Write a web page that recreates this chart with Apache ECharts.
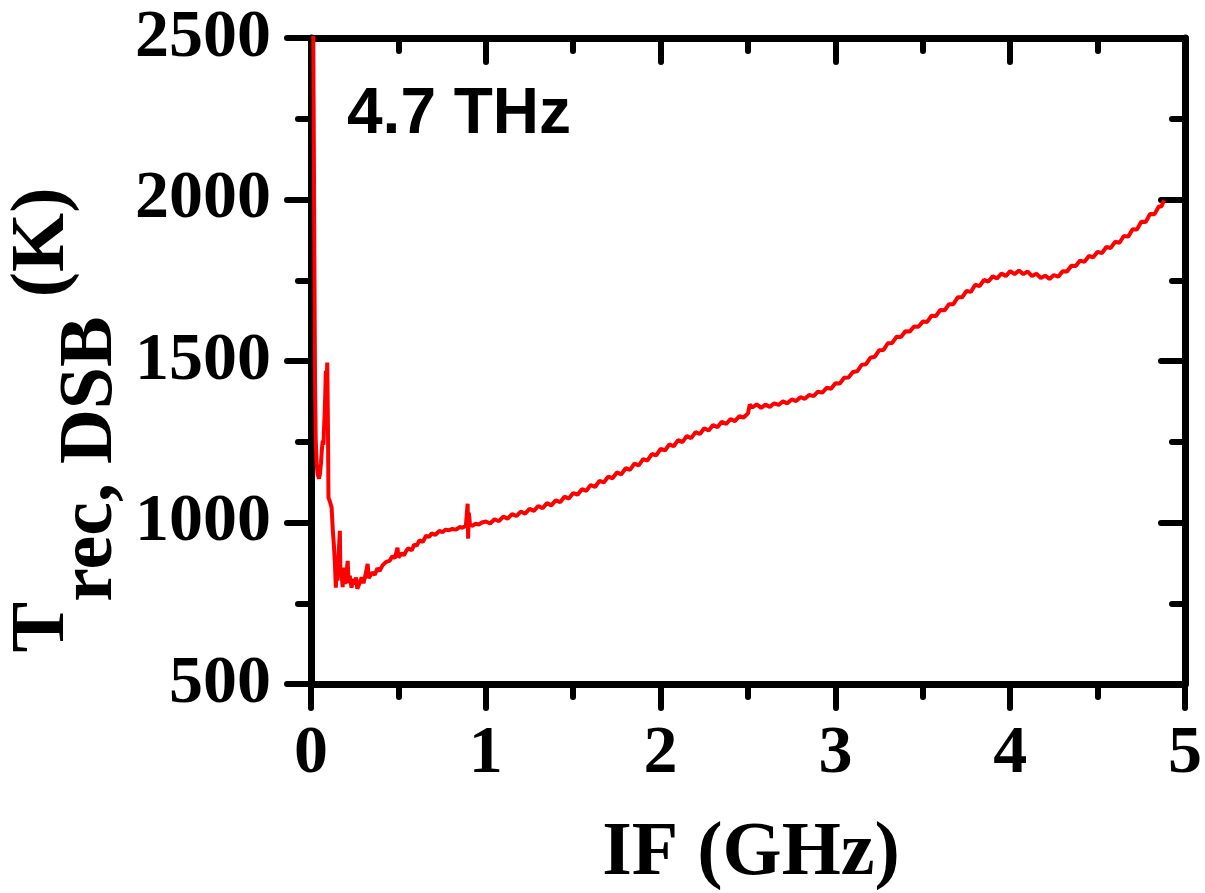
<!DOCTYPE html>
<html><head><meta charset="utf-8">
<script src="https://cdn.jsdelivr.net/npm/echarts@6/dist/echarts.min.js"></script>
<style>html,body{margin:0;padding:0;background:#fff}#c{width:1205px;height:893px}</style>
</head><body><div id="c"></div>
<script>
// IF frequency (GHz)
const ifGHz = [
0.012,0.016,0.020,0.023,0.027,0.032,0.038,0.046,0.051,0.057,0.062,0.067,0.071,0.074,0.079,0.085,0.089,0.093,0.097,0.100,
0.108,0.118,0.125,0.131,0.137,0.142,0.147,0.152,0.158,0.165,0.168,0.175,0.181,0.187,0.193,0.200,0.210,0.215,0.222,0.232,
0.240,0.250,0.258,0.265,0.279,0.290,0.300,0.312,0.324,0.330,0.336,0.350,0.365,0.380,0.392,0.410,0.430,0.449,0.465,0.480,
0.495,0.500,0.520,0.532,0.545,0.555,0.563,0.577,0.590,0.605,0.620,0.640,0.658,0.675,0.690,0.712,0.734,0.752,0.770,0.790,
0.808,0.830,0.850,0.868,0.886,0.896,0.899,0.903,0.910,0.925,0.940,0.960,0.978,
1.000,1.025,1.050,1.075,1.100,1.125,1.150,1.175,1.200,1.225,1.250,1.275,1.300,1.325,1.350,1.375,1.400,1.425,1.450,1.475,
1.500,1.525,1.550,1.575,1.600,1.625,1.650,1.675,1.700,1.725,1.750,1.775,1.800,1.825,1.850,1.875,1.900,1.925,1.950,1.975,
2.000,2.025,2.050,2.075,2.100,2.125,2.150,2.175,2.200,2.225,2.250,2.275,2.300,2.325,2.350,2.375,2.400,2.425,2.450,2.475,
2.500,2.510,2.525,2.550,2.575,2.600,2.625,2.650,2.675,2.700,2.725,2.750,2.775,2.800,2.825,2.850,2.875,2.900,2.925,2.950,
2.975,3.000,3.025,3.050,3.075,3.100,3.125,3.150,3.175,3.200,3.225,3.250,3.275,3.300,3.325,3.350,3.375,3.400,3.425,3.450,
3.475,3.500,3.525,3.550,3.575,3.600,3.625,3.650,3.675,3.700,3.725,3.750,3.775,3.800,3.825,3.850,3.875,3.900,3.925,3.950,
3.975,4.000,4.025,4.050,4.075,4.100,4.125,4.150,4.175,4.200,4.225,4.250,4.275,4.300,4.325,4.350,4.375,4.400,4.425,4.450,
4.475,4.500,4.525,4.550,4.575,4.600,4.625,4.650,4.675,4.700,4.725,4.750,4.775,4.800,4.825,4.850,4.865,4.880
];
// Receiver noise temperature, DSB (K)
const trecK = [
2600,2200,1750,1450,1260,1182,1150,1136,1150,1182,1225,1253,1240,1284,1350,1470,1420,1495,1300,1077,
1065,1046,974,930,872,798,860,820,900,974,850,841,800,860,810,830,881,812,835,798,
826,808,830,795,814,830,812,838,872,828,826,845,838,858,850,868,878,881,895,890,
922,892,905,898,912,920,922,914,932,928,945,940,959,955,966,962,974,970,978,976,
980,978,986,984,990,1058,950,1030,992,990,996,994,1000,
1003,997,1010,1004,1018,1012,1026,1020,1034,1027,1042,1036,1051,1044,1060,1053,1069,1063,1080,1074,
1091,1086,1103,1098,1116,1110,1129,1124,1142,1137,1155,1149,1168,1163,1182,1177,1196,1192,1212,1208,
1228,1223,1242,1236,1255,1249,1268,1261,1280,1274,1292,1285,1302,1295,1312,1305,1320,1314,1329,1325,
1338,1365,1356,1366,1355,1365,1358,1369,1364,1375,1369,1381,1376,1388,1383,1395,1391,1405,1402,1417,
1414,1431,1430,1448,1449,1466,1468,1488,1490,1510,1513,1533,1534,1555,1556,1575,1574,1592,1591,1607,
1606,1622,1621,1640,1639,1658,1657,1676,1676,1697,1697,1717,1714,1736,1732,1751,1746,1762,1756,1771,
1763,1778,1769,1780,1769,1777,1763,1770,1757,1764,1754,1766,1761,1778,1777,1795,1794,1811,1807,1825,
1821,1838,1834,1853,1850,1869,1866,1887,1885,1908,1907,1931,1930,1955,1954,1978,1978,1998
];
const xRange = [0, 5, 1];        // min, max, interval
const yRange = [500, 2500, 500]; // min, max, interval
const xTitle = 'IF (GHz)';
const freqLabel = '4.7 THz';

const seriesData = ifGHz.map((x, i) => [x, trecK[i]]);

const serif = 'Liberation Serif';
const axisCommon = (pos, inside, showLabel) => ({
  type: 'value',
  position: pos,
  axisLine: { show: true, onZero: false, lineStyle: { color: '#000', width: 7 } },
  axisTick: { show: true, inside: inside, length: 24, lineStyle: { color: '#000', width: 6, cap: 'round' } },
  minorTick: { show: true, splitNumber: 2, length: 13, lineStyle: { color: '#000', width: 6, cap: 'round' } },
  splitLine: { show: false },
  minorSplitLine: { show: false },
  axisLabel: { show: showLabel, fontFamily: serif, fontWeight: 'bold', fontSize: 68, color: '#000',
               formatter: (v) => String(v) }
});

const xb = axisCommon('bottom', false, true);
xb.min = xRange[0]; xb.max = xRange[1]; xb.interval = xRange[2]; xb.axisLabel.margin = 36;
const xt = axisCommon('top', true, false);
xt.min = xRange[0]; xt.max = xRange[1]; xt.interval = xRange[2];
const yl = axisCommon('left', false, true);
yl.min = yRange[0]; yl.max = yRange[1]; yl.interval = yRange[2]; yl.axisLabel.margin = 40;
const yr = axisCommon('right', true, false);
yr.min = yRange[0]; yr.max = yRange[1]; yr.interval = yRange[2];

const chart = echarts.init(document.getElementById('c'), null, { renderer: 'canvas' });
chart.setOption({
  backgroundColor: '#fff',
  animation: false,
  grid: { left: 311, right: 15, top: 38, bottom: 209, containLabel: false },
  xAxis: [xb, xt],
  yAxis: [yl, yr],
  series: [{
    type: 'line',
    xAxisIndex: 0, yAxisIndex: 0,
    data: seriesData,
    showSymbol: false,
    symbol: 'none',
    clip: true,
    lineStyle: { color: '#ff0000', width: 4 },
    z: 5
  }],
  graphic: [
    { type: 'text', x: 347, y: 115, z: 10,
      style: { text: freqLabel, fontFamily: 'Liberation Sans', fontWeight: 'bold', fontSize: 64, fill: '#000', align: 'left', verticalAlign: 'middle' } },
    { type: 'text', x: 751, y: 854, z: 10,
      style: { text: xTitle, fontFamily: serif, fontWeight: 'bold', fontSize: 76, fill: '#000', align: 'center', verticalAlign: 'middle' } },
    { type: 'text', x: 67, y: 420, rotation: Math.PI / 2, z: 10,
      style: {
        text: '{m|T}{s|rec, DSB}{m| (K)}',
        align: 'center', verticalAlign: 'middle',
        rich: {
          m: { fontFamily: serif, fontWeight: 'bold', fontSize: 76, lineHeight: 80, verticalAlign: 'top', fill: '#000' },
          s: { fontFamily: serif, fontWeight: 'bold', fontSize: 76, lineHeight: 124, verticalAlign: 'bottom', fill: '#000' }
        }
      } }
  ]
});
</script>
</body></html>
